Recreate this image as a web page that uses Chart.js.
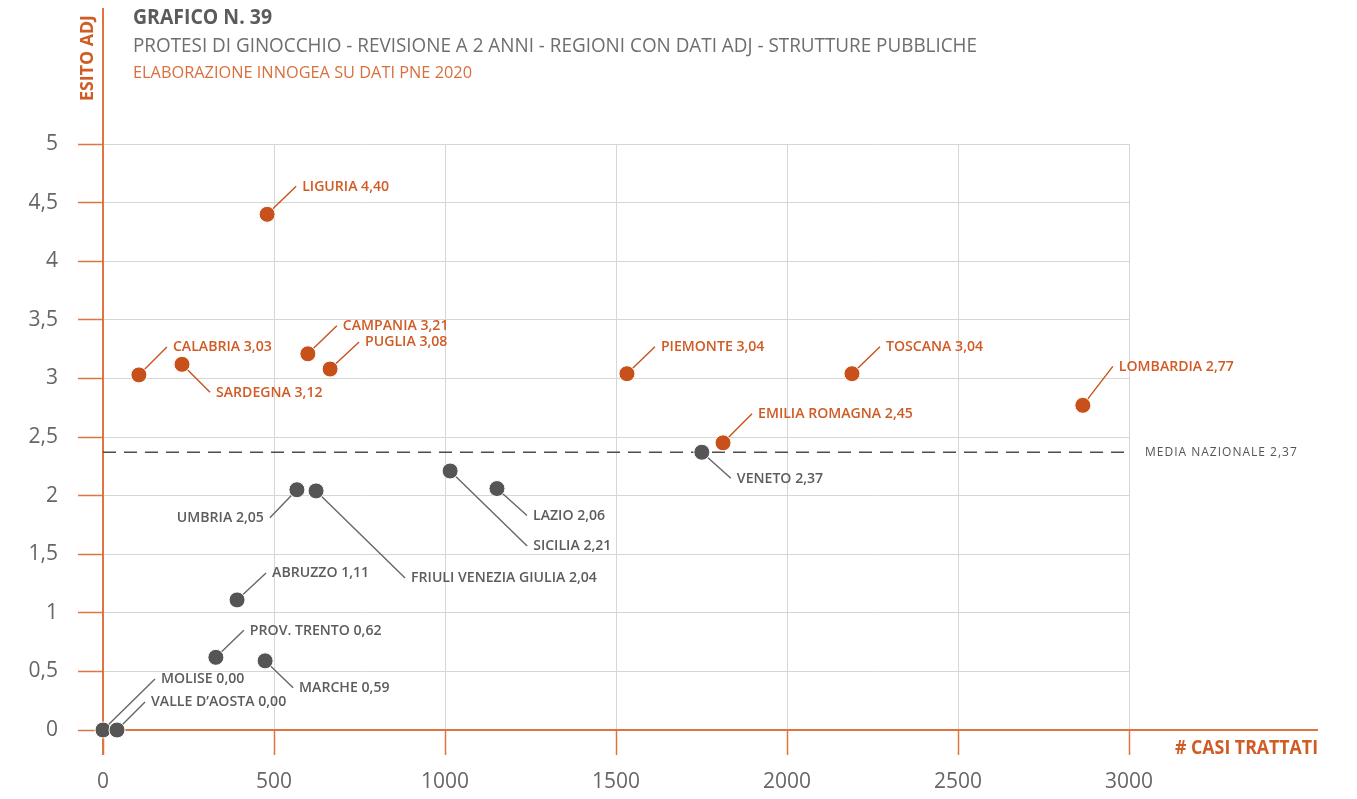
<!DOCTYPE html>
<html>
<head>
<meta charset="utf-8">
<script src="https://cdn.jsdelivr.net/npm/chart.js@4.4.1/dist/chart.umd.min.js"></script>
<style>
  html, body { margin: 0; padding: 0; background: #fff; }
  #wrap { width: 1357px; height: 799px; }
</style>
</head>
<body>
<div id="wrap"><canvas id="chart"></canvas></div>
<script>
// Regions, cases treated and adjusted outcome (PNE 2020, knee revision at 2 years)
const regioni = [
  "LIGURIA", "CALABRIA", "SARDEGNA", "CAMPANIA", "PUGLIA", "PIEMONTE", "TOSCANA",
  "LOMBARDIA", "EMILIA ROMAGNA", "VENETO", "UMBRIA", "FRIULI VENEZIA GIULIA",
  "SICILIA", "LAZIO", "ABRUZZO", "PROV. TRENTO", "MARCHE", "MOLISE", "VALLE D\u2019AOSTA",
];
const casiTrattati = [
  480, 105, 231, 599, 664, 1532, 2190,
  2865, 1813, 1751, 567, 623,
  1015, 1152, 392, 330, 474, 0, 41,
];
const esitoAdj = [
  4.40, 3.03, 3.12, 3.21, 3.08, 3.04, 3.04,
  2.77, 2.45, 2.37, 2.05, 2.04,
  2.21, 2.06, 1.11, 0.62, 0.59, 0.00, 0.00,
];
const mediaNazionale = 2.37;

const xTicks = [0, 500, 1000, 1500, 2000, 2500, 3000];
const yTicks = [0, 0.5, 1, 1.5, 2, 2.5, 3, 3.5, 4, 4.5, 5];

// Where each leader line ends, relative to its point (pixels)
const leaderOffsets = [
  [29, -28], [28, -28], [28, 28], [29, -28], [29, -27], [28, -27], [28, -27],
  [30, -39], [29, -29], [29, 26], [-27, 28], [89, 87],
  [77, 75], [30, 27], [29, -27], [28, -27], [28, 27], [52, -51], [28, -28],
];

const ORANGE = "#c8511b";
const ORANGE_TEXT = "#d05b24";
const AXIS_ORANGE = "#df7440";
const GREY = "#555555";
const GREY_TEXT = "#5c5c5c";
const FONT = "'Open Sans', sans-serif";

const fmt = (v, d) => v.toFixed(d).replace(".", ",");

const sopra = [];
const sotto = [];
regioni.forEach((r, i) => {
  const p = { x: casiTrattati[i], y: esitoAdj[i], i };
  (esitoAdj[i] > mediaNazionale ? sopra : sotto).push(p);
});

// Draw text squeezed horizontally so it fills the given width
const drawFitted = (ctx, text, x, y, width, font, color, rotate = 0) => {
  ctx.save();
  ctx.font = font;
  ctx.fillStyle = color;
  ctx.textBaseline = "middle";
  ctx.textAlign = "left";
  const w = ctx.measureText(text).width;
  ctx.translate(x, y);
  if (rotate) ctx.rotate(rotate);
  ctx.scale(width / w, 1);
  ctx.fillText(text, 0, 0);
  ctx.restore();
};

const decorations = {
  id: "decorations",
  beforeDatasetsDraw(chart) {
    const { ctx, scales: { x, y } } = chart;

    // Axis lines running past the plot area
    ctx.save();
    ctx.strokeStyle = AXIS_ORANGE;
    ctx.lineWidth = 2;
    ctx.beginPath();
    ctx.moveTo(x.getPixelForValue(0), 8);
    ctx.lineTo(x.getPixelForValue(0), y.bottom + 25);
    ctx.moveTo(x.right, y.getPixelForValue(0));
    ctx.lineTo(1318, y.getPixelForValue(0));
    ctx.stroke();

    // Leader lines, under the points
    ctx.lineWidth = 1.4;
    regioni.forEach((r, i) => {
      const px = x.getPixelForValue(casiTrattati[i]);
      const py = y.getPixelForValue(esitoAdj[i]);
      const [dx, dy] = leaderOffsets[i];
      ctx.strokeStyle = esitoAdj[i] > mediaNazionale ? ORANGE : "#666666";
      ctx.beginPath();
      ctx.moveTo(px, py);
      ctx.lineTo(px + dx, py + dy);
      ctx.stroke();
    });
    ctx.restore();
  },
  afterDatasetsDraw(chart) {
    const { ctx, scales: { x, y } } = chart;

    // Region labels
    regioni.forEach((r, i) => {
      const px = x.getPixelForValue(casiTrattati[i]);
      const py = y.getPixelForValue(esitoAdj[i]);
      const [dx, dy] = leaderOffsets[i];
      const text = `${r} ${fmt(esitoAdj[i], 2)}`;
      const above = esitoAdj[i] > mediaNazionale;
      ctx.save();
      ctx.font = `600 15px ${FONT}`;
      ctx.fillStyle = above ? ORANGE_TEXT : GREY_TEXT;
      ctx.textBaseline = "middle";
      const sx = 0.94;
      const w = ctx.measureText(text).width * sx;
      const tx = dx < 0 ? px + dx - 6 - w : px + dx + 6;
      ctx.translate(tx, py + dy);
      ctx.scale(sx, 1);
      ctx.fillText(text, 0, 0);
      ctx.restore();
    });

    // National average label
    ctx.save();
    ctx.font = `12px ${FONT}`;
    ctx.fillStyle = "#555555";
    ctx.textBaseline = "middle";
    ctx.letterSpacing = "1px";
    ctx.fillText(`MEDIA NAZIONALE ${fmt(mediaNazionale, 2)}`, x.right + 16, y.getPixelForValue(mediaNazionale));
    ctx.restore();

    // Titles and axis names
    drawFitted(ctx, "GRAFICO N. 39", 133, 18, 139, `700 21px ${FONT}`, "#5b5b5b");
    drawFitted(ctx, "PROTESI DI GINOCCHIO - REVISIONE A 2 ANNI - REGIONI CON DATI ADJ - STRUTTURE PUBBLICHE",
      133, 46, 844, `20px ${FONT}`, "#6e6e6e");
    drawFitted(ctx, "ELABORAZIONE INNOGEA SU DATI PNE 2020", 133, 73, 339, `17px ${FONT}`, "#d8703e");
    drawFitted(ctx, "ESITO ADJ", 88, 101, 86, `700 18px ${FONT}`, ORANGE_TEXT, -Math.PI / 2);
    drawFitted(ctx, "# CASI TRATTATI", 1175, 749, 143, `700 19px ${FONT}`, ORANGE_TEXT);
  },
};

const axisStyle = {
  grid: { color: "#d6d6d6", lineWidth: 1, tickColor: AXIS_ORANGE, tickLength: 25, tickWidth: 1.5 },
  border: { color: AXIS_ORANGE, width: 2 },
};

new Chart(document.getElementById("chart"), {
  type: "scatter",
  data: {
    datasets: [
      {
        data: sopra,
        backgroundColor: ORANGE,
        borderColor: "#ffffff",
        borderWidth: 1,
        pointRadius: 8,
        order: 1,
        clip: false,
      },
      {
        data: sotto,
        backgroundColor: GREY,
        borderColor: "#ffffff",
        borderWidth: 1,
        pointRadius: 8,
        order: 2,
        clip: false,
      },
      {
        data: [{ x: xTicks[0], y: mediaNazionale }, { x: xTicks[xTicks.length - 1], y: mediaNazionale }],
        showLine: true,
        borderColor: "#4d4d4d",
        borderWidth: 1.3,
        borderDash: [13, 8],
        pointRadius: 0,
        order: 3,
      },
    ],
  },
  options: {
    responsive: true,
    maintainAspectRatio: false,
    animation: false,
    layout: { padding: { top: 144, right: 228, left: 0, bottom: 0 } },
    plugins: { legend: { display: false }, tooltip: { enabled: false } },
    scales: {
      x: {
        type: "linear",
        min: xTicks[0],
        max: xTicks[xTicks.length - 1],
        afterBuildTicks: (s) => { s.ticks = xTicks.map((v) => ({ value: v })); },
        afterFit: (s) => { s.height = 69; },
        ticks: {
          color: "#666666",
          font: { family: FONT, size: 21 },
          padding: 14,
          maxRotation: 0,
          callback: (v) => String(v),
        },
        ...axisStyle,
      },
      y: {
        min: yTicks[0],
        max: yTicks[yTicks.length - 1],
        afterBuildTicks: (s) => { s.ticks = yTicks.map((v) => ({ value: v })); },
        afterFit: (s) => { s.width = 103; },
        ticks: {
          color: "#666666",
          font: { family: FONT, size: 21 },
          padding: 20,
          callback: (v) => String(v).replace(".", ","),
        },
        ...axisStyle,
      },
    },
  },
  plugins: [decorations],
});
</script>
</body>
</html>
